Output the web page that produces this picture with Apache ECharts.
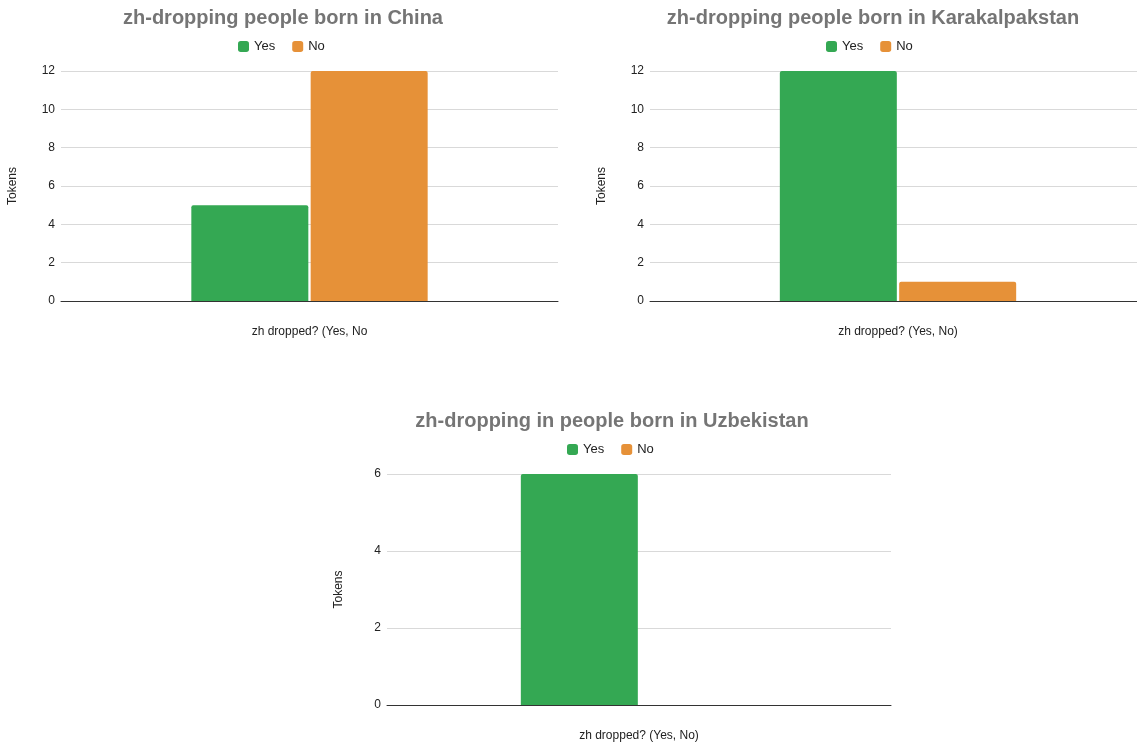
<!DOCTYPE html>
<html>
<head>
<meta charset="utf-8">
<script src="https://cdn.jsdelivr.net/npm/echarts@6/dist/echarts.min.js"></script>
<style>
  html, body { margin: 0; padding: 0; background: #fff; }
  #chart { width: 1137px; height: 744px; }
</style>
</head>
<body>
<div id="chart"></div>
<script>
// Token counts of zh-dropping by birthplace
const seriesNames = ['Yes', 'No'];
const category = ['zh dropped? (Yes, No)'];
const chinaYes = [5];
const chinaNo = [12];
const karakalpakstanYes = [12];
const karakalpakstanNo = [1];
const uzbekistanYes = [6];
const uzbekistanNo = [0];
const titles = [
  'zh-dropping people born in China',
  'zh-dropping people born in Karakalpakstan',
  'zh-dropping in people born in Uzbekistan'
];
const xAxisNames = ['zh dropped? (Yes, No', 'zh dropped? (Yes, No)', 'zh dropped? (Yes, No)'];
const yAxisName = 'Tokens';
const yMax = [12, 12, 6];

const FONT = '"Liberation Sans", Arial, sans-serif';
const GREEN = '#34a853';
const ORANGE = '#e69138';

const panels = [
  { grid: { left: 61, top: 71, width: 497, height: 230 }, titleX: 283, titleY: 8, legendX: 238, legendY: 40 },
  { grid: { left: 650, top: 71, width: 496, height: 230 }, titleX: 873, titleY: 8, legendX: 826, legendY: 40 },
  { grid: { left: 387, top: 474, width: 504, height: 231 }, titleX: 612, titleY: 411, legendX: 567, legendY: 443 }
];

const values = [
  [chinaYes, chinaNo],
  [karakalpakstanYes, karakalpakstanNo],
  [uzbekistanYes, uzbekistanNo]
];

const option = {
  animation: false,
  backgroundColor: '#fff',
  textStyle: { fontFamily: FONT },
  title: panels.map((p, i) => ({
    text: titles[i],
    left: p.titleX,
    top: p.titleY,
    textAlign: 'center',
    padding: 0,
    textStyle: { fontFamily: FONT, fontSize: 20, fontWeight: 'bold', color: '#757575' }
  })),
  legend: panels.map((p) => ({
    data: seriesNames,
    left: p.legendX,
    top: p.legendY,
    padding: 0,
    itemWidth: 11,
    itemHeight: 11,
    itemGap: 17,
    icon: 'roundRect',
    selectedMode: false,
    textStyle: { fontFamily: FONT, fontSize: 13, color: '#222' }
  })),
  grid: panels.map((p) => Object.assign({ containLabel: false, outerBoundsMode: 'none' }, p.grid)),
  xAxis: panels.map((p, i) => ({
    type: 'category',
    gridIndex: i,
    data: category,
    name: xAxisNames[i],
    nameLocation: 'middle',
    nameGap: 25,
    nameTextStyle: { fontFamily: FONT, fontSize: 12, color: '#222' },
    axisLabel: { show: false },
    axisTick: { show: false },
    axisLine: { lineStyle: { color: '#333', width: 1 } }
  })),
  yAxis: panels.map((p, i) => ({
    type: 'value',
    gridIndex: i,
    min: 0,
    max: yMax[i],
    interval: 2,
    name: yAxisName,
    nameLocation: 'middle',
    nameRotate: 90,
    nameGap: 42,
    nameTextStyle: { fontFamily: FONT, fontSize: 12, color: '#222' },
    axisLabel: { fontFamily: FONT, fontSize: 12, color: '#222', margin: 6 },
    axisLine: { show: false },
    axisTick: { show: false },
    splitLine: { lineStyle: { color: '#d9d9d9', width: 1 } }
  })),
  series: []
};

values.forEach((pair, i) => {
  pair.forEach((data, k) => {
    option.series.push({
      type: 'bar',
      name: seriesNames[k],
      xAxisIndex: i,
      yAxisIndex: i,
      data: data,
      barWidth: 117,
      barGap: '2%',
      itemStyle: { color: k === 0 ? GREEN : ORANGE, borderRadius: [2, 2, 0, 0] }
    });
  });
});

const chart = echarts.init(document.getElementById('chart'), null, { renderer: 'canvas' });
chart.setOption(option);
</script>
</body>
</html>
